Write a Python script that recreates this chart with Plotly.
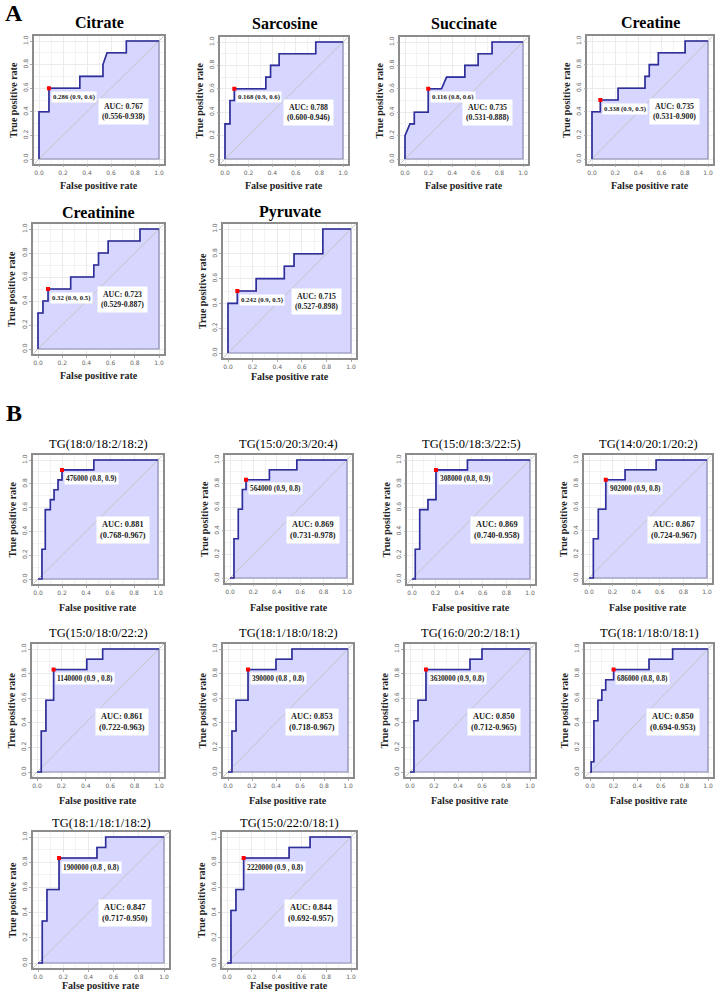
import plotly.graph_objects as go

W, H = 721, 992

# ---------------- data ----------------
NAMES = ["Citrate", "Sarcosine", "Succinate", "Creatine", "Creatinine", "Pyruvate",
         "TG(18:0/18:2/18:2)", "TG(15:0/20:3/20:4)", "TG(15:0/18:3/22:5)", "TG(14:0/20:1/20:2)",
         "TG(15:0/18:0/22:2)", "TG(18:1/18:0/18:2)", "TG(16:0/20:2/18:1)", "TG(18:1/18:0/18:1)",
         "TG(18:1/18:1/18:2)", "TG(15:0/22:0/18:1)"]

CUT_LABELS = ["0.286 (0.9, 0.6)", "0.168 (0.9, 0.6)", "0.116 (0.8, 0.6)", "0.338 (0.9, 0.5)",
              "0.32 (0.9, 0.5)", "0.242 (0.9, 0.5)",
              "476000 (0.8, 0.9)", "564000 (0.9, 0.8)", "308000 (0.8, 0.9)", "902000 (0.9, 0.8)",
              "1140000 (0.9 , 0.8)", "390000 (0.8 , 0.8)", "3630000 (0.9, 0.8)", "686000 (0.8, 0.8)",
              "1900000 (0.8 , 0.8)", "2220000 (0.9 , 0.8)"]

AUC = ["0.767", "0.788", "0.735", "0.735", "0.723", "0.715",
       "0.881", "0.869", "0.869", "0.867", "0.861", "0.853", "0.850", "0.850", "0.847", "0.844"]
AUC_CI = ["0.556-0.938", "0.600-0.946", "0.531-0.888", "0.531-0.900", "0.529-0.887", "0.527-0.898",
          "0.768-0.967", "0.731-0.978", "0.740-0.958", "0.724-0.967", "0.722-0.963", "0.718-0.967",
          "0.712-0.965", "0.694-0.953", "0.717-0.950", "0.692-0.957"]

# best-threshold points (FPR, TPR)
BEST_FPR = [0.083, 0.079, 0.197, 0.072, 0.083, 0.076,
            0.200, 0.137, 0.203, 0.142, 0.136, 0.167, 0.133, 0.200, 0.167, 0.134]
BEST_TPR = [0.6, 0.6, 0.6, 0.5, 0.5, 0.5,
            0.917, 0.833, 0.917, 0.833, 0.833, 0.833, 0.833, 0.833, 0.833, 0.833]

CITRATE_FPR = [0, 0, 0.083, 0.083, 0.34, 0.34, 0.533, 0.533, 0.567, 0.728, 0.728, 1.0]
CITRATE_TPR = [0, 0.4, 0.4, 0.6, 0.6, 0.7, 0.7, 0.8, 0.9, 0.9, 1.0, 1.0]

SARCOSINE_FPR = [0, 0, 0.042, 0.042, 0.079, 0.079, 0.346, 0.346, 0.386, 0.386, 0.459, 0.459, 0.769, 0.769, 1.0]
SARCOSINE_TPR = [0, 0.3, 0.3, 0.5, 0.5, 0.6, 0.6, 0.7, 0.7, 0.8, 0.8, 0.9, 0.9, 1.0, 1.0]

SUCCINATE_FPR = [0, 0, 0.042, 0.079, 0.079, 0.197, 0.197, 0.31, 0.352, 0.507, 0.507, 0.62, 0.62, 0.738, 0.738, 1.0]
SUCCINATE_TPR = [0, 0.2, 0.3, 0.3, 0.4, 0.4, 0.6, 0.6, 0.7, 0.7, 0.8, 0.8, 0.9, 0.9, 1.0, 1.0]

CREATINE_FPR = [0, 0, 0.072, 0.072, 0.225, 0.225, 0.457, 0.457, 0.494, 0.494, 0.572, 0.572, 0.803, 0.803, 1.0]
CREATINE_TPR = [0, 0.4, 0.4, 0.5, 0.5, 0.6, 0.6, 0.7, 0.7, 0.8, 0.8, 0.9, 0.9, 1.0, 1.0]

CREATININE_FPR = [0, 0, 0.041, 0.041, 0.083, 0.083, 0.27, 0.27, 0.461, 0.461, 0.5, 0.5, 0.58, 0.58, 0.843, 0.843, 1.0]
CREATININE_TPR = [0, 0.3, 0.3, 0.4, 0.4, 0.5, 0.5, 0.6, 0.6, 0.7, 0.7, 0.8, 0.8, 0.9, 0.9, 1.0, 1.0]

PYRUVATE_FPR = [0, 0, 0.076, 0.076, 0.229, 0.229, 0.458, 0.458, 0.537, 0.537, 0.771, 0.771, 1.0]
PYRUVATE_TPR = [0, 0.4, 0.4, 0.5, 0.5, 0.6, 0.6, 0.7, 0.7, 0.8, 0.8, 1.0, 1.0]

TG1_FPR = [0, 0.033, 0.033, 0.061, 0.061, 0.103, 0.103, 0.134, 0.134, 0.167, 0.167, 0.2, 0.2, 0.465, 0.465, 1.0]
TG1_TPR = [0, 0, 0.25, 0.25, 0.583, 0.583, 0.667, 0.667, 0.75, 0.75, 0.833, 0.833, 0.917, 0.917, 1.0, 1.0]

TG2_FPR = [0, 0.034, 0.034, 0.071, 0.071, 0.106, 0.106, 0.137, 0.137, 0.337, 0.337, 0.571, 0.571, 1.0]
TG2_TPR = [0, 0, 0.333, 0.333, 0.583, 0.583, 0.75, 0.75, 0.833, 0.833, 0.917, 0.917, 1.0, 1.0]

TG3_FPR = [0, 0.028, 0.028, 0.065, 0.065, 0.135, 0.135, 0.203, 0.203, 0.47, 0.47, 1.0]
TG3_TPR = [0, 0, 0.25, 0.25, 0.583, 0.583, 0.667, 0.667, 0.917, 0.917, 1.0, 1.0]

TG4_FPR = [0, 0.037, 0.037, 0.079, 0.079, 0.142, 0.142, 0.306, 0.306, 0.569, 0.569, 1.0]
TG4_TPR = [0, 0, 0.333, 0.333, 0.583, 0.583, 0.833, 0.833, 0.917, 0.917, 1.0, 1.0]

TG5_FPR = [0, 0.035, 0.035, 0.073, 0.073, 0.136, 0.136, 0.408, 0.408, 0.538, 0.538, 1.0]
TG5_TPR = [0, 0, 0.333, 0.333, 0.583, 0.583, 0.833, 0.833, 0.917, 0.917, 1.0, 1.0]

TG6_FPR = [0, 0.033, 0.033, 0.067, 0.067, 0.167, 0.167, 0.4, 0.4, 0.533, 0.533, 1.0]
TG6_TPR = [0, 0, 0.333, 0.333, 0.583, 0.583, 0.833, 0.833, 0.917, 0.917, 1.0, 1.0]

TG7_FPR = [0, 0.033, 0.033, 0.067, 0.067, 0.133, 0.133, 0.5, 0.5, 0.6, 0.6, 1.0]
TG7_TPR = [0, 0, 0.417, 0.417, 0.583, 0.583, 0.833, 0.833, 0.917, 0.917, 1.0, 1.0]

TG8_FPR = [0, 0.01, 0.01, 0.033, 0.033, 0.067, 0.067, 0.1, 0.1, 0.133, 0.133, 0.2, 0.2, 0.5, 0.5, 0.7, 0.7, 1.0]
TG8_TPR = [0, 0, 0.083, 0.083, 0.417, 0.417, 0.583, 0.583, 0.667, 0.667, 0.75, 0.75, 0.833, 0.833, 0.917, 0.917, 1.0, 1.0]

TG9_FPR = [0, 0.034, 0.034, 0.071, 0.071, 0.167, 0.167, 0.468, 0.468, 0.537, 0.537, 1.0]
TG9_TPR = [0, 0, 0.333, 0.333, 0.583, 0.583, 0.833, 0.833, 0.917, 0.917, 1.0, 1.0]

TG10_FPR = [0, 0.032, 0.032, 0.072, 0.072, 0.134, 0.134, 0.501, 0.501, 0.67, 0.67, 1.0]
TG10_TPR = [0, 0, 0.417, 0.417, 0.583, 0.583, 0.833, 0.833, 0.917, 0.917, 1.0, 1.0]

CURVES = [(CITRATE_FPR, CITRATE_TPR), (SARCOSINE_FPR, SARCOSINE_TPR), (SUCCINATE_FPR, SUCCINATE_TPR),
          (CREATINE_FPR, CREATINE_TPR), (CREATININE_FPR, CREATININE_TPR), (PYRUVATE_FPR, PYRUVATE_TPR),
          (TG1_FPR, TG1_TPR), (TG2_FPR, TG2_TPR), (TG3_FPR, TG3_TPR), (TG4_FPR, TG4_TPR),
          (TG5_FPR, TG5_TPR), (TG6_FPR, TG6_TPR), (TG7_FPR, TG7_TPR), (TG8_FPR, TG8_TPR),
          (TG9_FPR, TG9_TPR), (TG10_FPR, TG10_TPR)]

# ---------------- layout (pixel positions of data 0 and 1, title y, x-title offset) ----------------
GEOM = [
    (39, 159, 159, 41, 22, 26), (225, 343, 159, 42, 23, 26), (405, 523, 159, 42, 23, 26),
    (592, 708, 159, 41, 22, 26),
    (38, 159, 349, 229, 212, 26), (228, 351, 353, 229, 212, 23),
    (38, 158, 579, 460, 444, 28), (230, 347, 578, 460, 444, 29), (412, 530, 579, 460, 444, 28),
    (589, 707, 578, 460, 444, 29),
    (37, 159, 772, 649, 633, 28), (228, 348, 772, 649, 633, 28), (410, 530, 772, 649, 633, 28),
    (590, 708, 772, 649, 633, 28),
    (38, 164, 963, 837, 823, 22), (227, 351, 963, 837, 823, 22),
]
AUC_POS_X = [0.70, 0.71, 0.70, 0.71, 0.70, 0.717,
             0.71, 0.706, 0.72, 0.717, 0.70, 0.70, 0.70, 0.70, 0.69, 0.68]
AUC_POS_Y = [0.40, 0.40, 0.40, 0.405, 0.41, 0.414,
             0.41, 0.41, 0.41, 0.41, 0.41, 0.41, 0.41, 0.41, 0.40, 0.40]

SERIF = "Liberation Serif"
SANS = "DejaVu Sans"
FILL = "#D6D6FF"
CURVE_COL = "#2e2e9c"


def px_x(p):
    return p / W


def px_y(p):
    return 1 - p / H


fig = go.Figure()
annotations = []
layout_axes = {}

for i, (name, (fpr, tpr), g) in enumerate(zip(NAMES, CURVES, GEOM)):
    x0, x1, y0, y1, ty, xt_off = g
    sfx = "" if i == 0 else str(i + 1)
    xa, ya = "x" + sfx, "y" + sfx
    w = x1 - x0
    h = y0 - y1
    left, right = x0 - 0.04 * w, x1 + 0.04 * w
    top, bottom = y1 - 0.04 * h, y0 + 0.04 * h
    is_a = i < 6

    fig.add_trace(go.Scatter(x=list(fpr) + [1.0, 0.0], y=list(tpr) + [0.0, 0.0], fill="toself",
                             fillcolor=FILL, mode="lines", line=dict(color="#8a8ab0", width=1.2),
                             xaxis=xa, yaxis=ya, hoverinfo="skip", showlegend=False))
    fig.add_trace(go.Scatter(x=[-0.04, 1.04], y=[-0.04, 1.04], mode="lines",
                             line=dict(color="#c4c4c4", width=1), xaxis=xa, yaxis=ya,
                             hoverinfo="skip", showlegend=False))
    fig.add_trace(go.Scatter(x=fpr, y=tpr, mode="lines", line=dict(color=CURVE_COL, width=1.6),
                             xaxis=xa, yaxis=ya, showlegend=False))
    fig.add_trace(go.Scatter(x=[BEST_FPR[i]], y=[BEST_TPR[i]], mode="markers",
                             marker=dict(color="red", size=4, symbol="square"),
                             xaxis=xa, yaxis=ya, showlegend=False))

    common = dict(range=[-0.04, 1.04], showline=True, mirror=True, linecolor="#8c8c8c", linewidth=1.5,
                  showgrid=True, gridcolor="#ebebeb", gridwidth=1, dtick=0.2, tick0=0, tickformat=".1f",
                  tickfont=dict(family=SANS, size=6, color="#666666"), ticks="outside", ticklen=2,
                  tickcolor="#aaaaaa", zeroline=False, fixedrange=True,
                  minor=dict(dtick=0.1, showgrid=True, gridcolor="#f3f3f3"))
    layout_axes["xaxis" + sfx] = dict(common, domain=[px_x(left), px_x(right)], anchor=ya)
    layout_axes["yaxis" + sfx] = dict(common, domain=[px_y(bottom), px_y(top)], anchor=xa, tickangle=-90)

    cx = (left + right) / 2
    if is_a:
        annotations.append(dict(text="<b>" + name + "</b>", x=px_x(cx), y=px_y(ty), xref="paper", yref="paper",
                                showarrow=False, font=dict(family=SERIF, size=16, color="black"),
                                xanchor="center", yanchor="middle"))
    else:
        annotations.append(dict(text=name, x=px_x(cx), y=px_y(ty), xref="paper", yref="paper",
                                showarrow=False, font=dict(family=SERIF, size=12.5, color="black"),
                                xanchor="center", yanchor="middle"))
    # axis titles
    annotations.append(dict(text="<b>False positive rate</b>", x=px_x(cx), y=px_y(y0 + xt_off), xref="paper",
                            yref="paper", showarrow=False, font=dict(family=SERIF, size=10, color="#222"),
                            xanchor="center", yanchor="middle"))
    annotations.append(dict(text="<b>True positive rate</b>", x=px_x(x0 - 26), y=px_y((y0 + y1) / 2),
                            xref="paper", yref="paper", showarrow=False, textangle=-90,
                            font=dict(family=SERIF, size=10, color="#222"), xanchor="center", yanchor="middle"))
    # threshold label
    annotations.append(dict(text="<b>" + CUT_LABELS[i] + "</b>", x=BEST_FPR[i] + 0.015, y=BEST_TPR[i] - 0.072,
                            xref=xa, yref=ya, showarrow=False, bgcolor="white", borderpad=1,
                            font=dict(family=SERIF, size=6.8 if is_a else 7.3, color="#222"),
                            xanchor="left", yanchor="middle"))
    # AUC label
    annotations.append(dict(text="<b>AUC: " + AUC[i] + "<br>(" + AUC_CI[i] + ")</b>", x=AUC_POS_X[i],
                            y=AUC_POS_Y[i], xref=xa, yref=ya, showarrow=False, bgcolor="white", borderpad=3,
                            font=dict(family=SERIF, size=7.8 if is_a else 8.3, color="#222"), xanchor="center",
                            yanchor="middle"))

annotations.append(dict(text="<b>A</b>", x=px_x(3), y=px_y(13), xref="paper", yref="paper", showarrow=False,
                        font=dict(family=SERIF, size=24, color="black"), xanchor="left", yanchor="middle"))
annotations.append(dict(text="<b>B</b>", x=px_x(4), y=px_y(413), xref="paper", yref="paper", showarrow=False,
                        font=dict(family=SERIF, size=24, color="black"), xanchor="left", yanchor="middle"))

fig.update_layout(width=W, height=H, autosize=False, margin=dict(l=0, r=0, t=0, b=0),
                  paper_bgcolor="white", plot_bgcolor="white", showlegend=False,
                  annotations=annotations, **layout_axes)

fig.write_html("out.html", config={"displayModeBar": False},
               post_script="document.body.style.margin='0px';")
